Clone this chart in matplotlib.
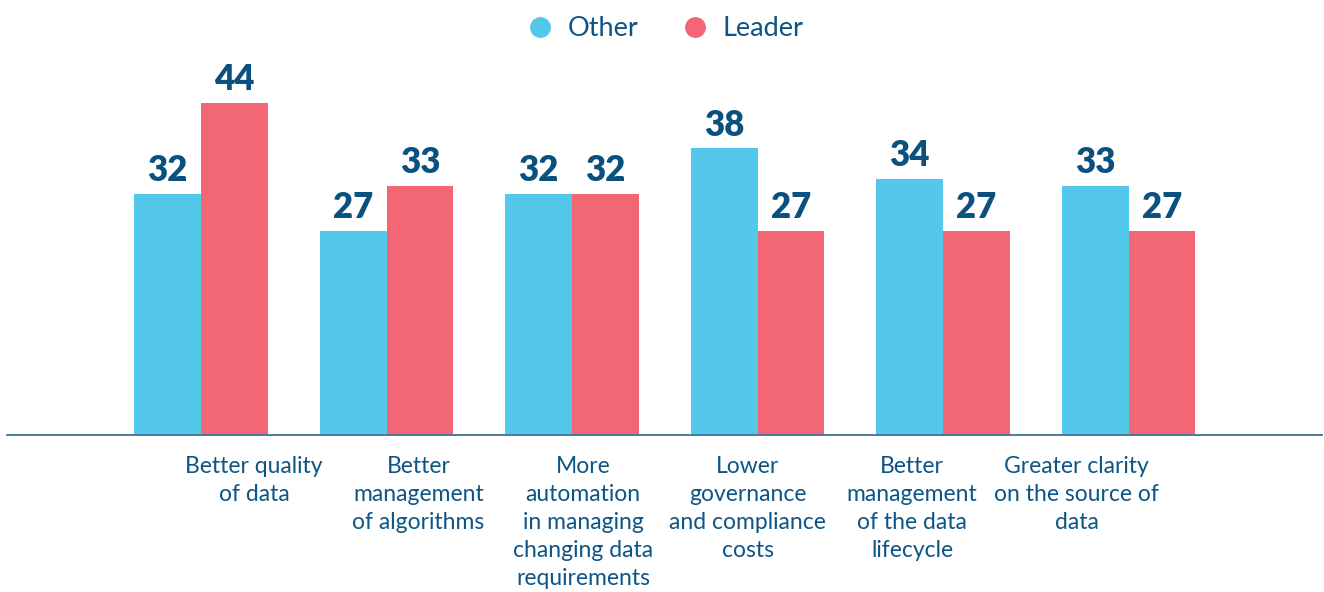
import matplotlib
matplotlib.use("Agg")
import matplotlib.pyplot as plt
from matplotlib.lines import Line2D
import numpy as np

categories = [
    "Better quality\nof data",
    "Better\nmanagement\nof algorithms",
    "More\nautomation\nin managing\nchanging data\nrequirements",
    "Lower\ngovernance\nand compliance\ncosts",
    "Better\nmanagement\nof the data\nlifecycle",
    "Greater clarity\non the source of\ndata",
]
other = [32, 27, 32, 38, 34, 33]
leader = [44, 33, 32, 27, 27, 27]
series_names = ["Other", "Leader"]

C_OTHER = "#53C8EB"
C_LEADER = "#F26773"
C_TEXT = "#0D5584"
C_NUM = "#0B5180"

plt.rcParams['font.family'] = ['Lato', 'DejaVu Sans']

fig = plt.figure(figsize=(13.24, 5.92), dpi=100)
ax = fig.add_axes([7/1324, (592-435)/592, (1322-7)/1324, (435-58)/592])

x = np.arange(len(categories))
w = 0.361
b1 = ax.bar(x - w/2, other, w, color=C_OTHER, label=series_names[0])
b2 = ax.bar(x + w/2, leader, w, color=C_LEADER, label=series_names[1])

for bars in (b1, b2):
    for r in bars:
        ax.annotate(f"{int(r.get_height())}", (r.get_x() + r.get_width()/2, r.get_height()),
                    xytext=(0, 5), textcoords="offset points", ha="center", va="bottom",
                    fontsize=25, fontweight="heavy", color=C_NUM)

ax.set_xlim(-1.046, 6.043)
ax.set_ylim(0, 50)

# category labels sit on a slightly tighter, offset grid than the bar groups
label_pos = x * 0.887 + 0.285
ax.set_xticks(label_pos)
ax.set_xticklabels(categories, fontsize=16.5, color=C_TEXT, linespacing=1.42)
ax.tick_params(axis="x", length=0, pad=15)
ax.set_yticks([])
for s in ("top", "right", "left"):
    ax.spines[s].set_visible(False)
ax.spines["bottom"].set_color("#3E7397")
ax.spines["bottom"].set_linewidth(1.3)

handles = [Line2D([], [], marker="o", linestyle="", markersize=14, color=C_OTHER),
           Line2D([], [], marker="o", linestyle="", markersize=14, color=C_LEADER)]
leg = fig.legend(handles, series_names, loc="center", bbox_to_anchor=(665/1324, 1 - 29/592),
                 ncol=2, frameon=False, fontsize=19.5, handletextpad=0.5, columnspacing=1.6,
                 handlelength=1.0)
for t in leg.get_texts():
    t.set_color(C_TEXT)

fig.savefig("out.png", dpi=100)
